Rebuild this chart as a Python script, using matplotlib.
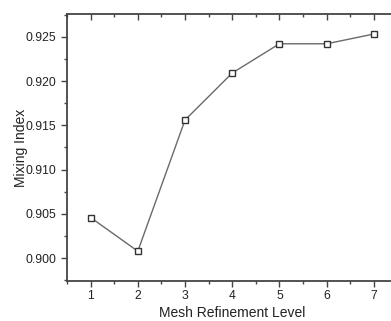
import numpy as np
import matplotlib
matplotlib.use('Agg')
import matplotlib.pyplot as plt
from matplotlib.ticker import MultipleLocator

plt.rcParams['font.family'] = ['Liberation Sans', 'DejaVu Sans']

# --- Data ---
levels = [1, 2, 3, 4, 5, 6, 7]
mixing_index = [0.9046, 0.9008, 0.9156, 0.9209, 0.9242, 0.9242, 0.9253]

fig = plt.figure(figsize=(3.91, 3.21), dpi=100)
# axes run past the right edge, like the cropped original
ax = fig.add_axes([0.1714, 0.1246, 0.845, 0.8318])

ax.plot(levels, mixing_index, color='#6a6a6a', linewidth=1.0,
        marker='s', markersize=5, markerfacecolor='white',
        markeredgecolor='#333333', markeredgewidth=1.0)

ax.set_xlim(0.5, 7.5)
ax.set_ylim(0.89744, 0.92756)
ax.xaxis.set_major_locator(MultipleLocator(1))
ax.xaxis.set_minor_locator(MultipleLocator(0.5))
ax.yaxis.set_major_locator(MultipleLocator(0.005))
ax.yaxis.set_minor_locator(MultipleLocator(0.0025))
ax.yaxis.set_major_formatter(plt.FormatStrFormatter('%.3f'))

for side in ['left', 'bottom', 'top', 'right']:
    ax.spines[side].set_color('#444444')
    ax.spines[side].set_linewidth(1.3)

ax.tick_params(which='both', direction='out', color='#444444', width=1.0,
               labelsize=8.7, labelcolor='#222222', top=True)
ax.tick_params(which='major', length=4)
ax.tick_params(which='minor', length=2.5)
ax.tick_params(axis='x', which='both', top=True, direction='out')
ax.tick_params(axis='x', which='major', pad=2.5)

# top ticks point into the plot
for t in ax.xaxis.get_major_ticks() + ax.xaxis.get_minor_ticks():
    t.tick2line.set_marker(3)

ax.set_xlabel('Mesh Refinement Level', fontsize=10, color='#222222', labelpad=3)
ax.set_ylabel('Mixing Index', fontsize=10, color='#222222', labelpad=-1.5)

fig.savefig('out.png', dpi=100)
